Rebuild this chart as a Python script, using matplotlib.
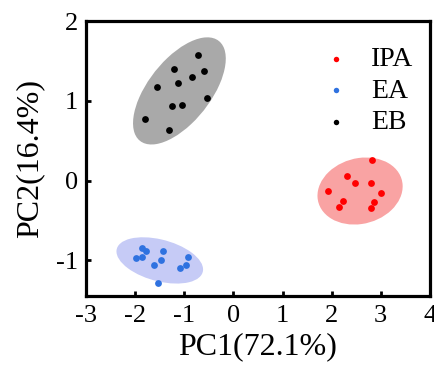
import matplotlib
matplotlib.use("Agg")
import matplotlib.pyplot as plt
from matplotlib.patches import Ellipse

plt.rcParams['font.family'] = ['Liberation Serif', 'DejaVu Serif']
plt.rcParams['axes.unicode_minus'] = False

groups = ["IPA", "EA", "EB"]
colors = ["#ff0000", "#2f72e0", "#000000"]
fill_colors = ["#f9a3a3", "#c6cbf6", "#a9a9a9"]

ipa_x = [2.83, 2.31, 2.47, 2.80, 1.93, 3.00, 2.24, 2.87, 2.15, 2.80]
ipa_y = [0.26, 0.06, -0.03, -0.03, -0.13, -0.16, -0.25, -0.27, -0.33, -0.34]

ea_x = [-1.87, -1.78, -1.43, -1.99, -1.87, -1.48, -0.93, -1.62, -0.96, -1.09, -1.53]
ea_y = [-0.85, -0.88, -0.88, -0.97, -0.96, -1.00, -0.96, -1.06, -1.06, -1.10, -1.28]

eb_x = [-0.72, -1.21, -0.60, -0.84, -1.12, -1.56, -0.53, -1.26, -1.04, -1.81, -1.32]
eb_y = [1.58, 1.40, 1.38, 1.30, 1.23, 1.18, 1.04, 0.94, 0.95, 0.77, 0.64]

# confidence ellipses: center x, center y, width, height, angle (data units)
ell_cx = [2.58, -1.50, -1.10]
ell_cy = [-0.13, -1.00, 1.125]
ell_w = [1.74, 1.78, 2.11]
ell_h = [0.83, 0.53, 0.96]
ell_ang = [5, -8, 30]

xticks = [-3, -2, -1, 0, 1, 2, 3, 4]
yticks = [-1, 0, 1, 2]

fig = plt.figure(figsize=(4.35, 3.77), dpi=100)
ax = fig.add_axes([0.198, 0.214, 0.790, 0.730])

xs = [ipa_x, ea_x, eb_x]
ys = [ipa_y, ea_y, eb_y]
for i in range(3):
    e = Ellipse((ell_cx[i], ell_cy[i]), ell_w[i], ell_h[i], angle=ell_ang[i],
                facecolor=fill_colors[i], edgecolor='none', zorder=1)
    ax.add_patch(e)
for i in range(3):
    ax.scatter(xs[i], ys[i], s=24, color=colors[i], label=groups[i],
               zorder=3, linewidths=0)

ax.set_xlim(-3, 4)
ax.set_ylim(-1.45, 2)
ax.set_xticks(xticks)
ax.set_yticks(yticks)
ax.tick_params(direction='in', length=3.5, width=2, labelsize=19,
               top=False, right=False, pad=6)
for sp in ax.spines.values():
    sp.set_linewidth(2.3)

ax.set_xlabel("PC1(72.1%)", fontsize=23, labelpad=4)
ax.set_ylabel("PC2(16.4%)", fontsize=23, labelpad=8)

leg = ax.legend(loc='upper right', bbox_to_anchor=(1.008, 0.978), frameon=False,
                fontsize=20, handlelength=1.0, handletextpad=0.75,
                labelspacing=0.22, markerscale=0.8, borderpad=0.2)

fig.savefig("out.png", dpi=100)
